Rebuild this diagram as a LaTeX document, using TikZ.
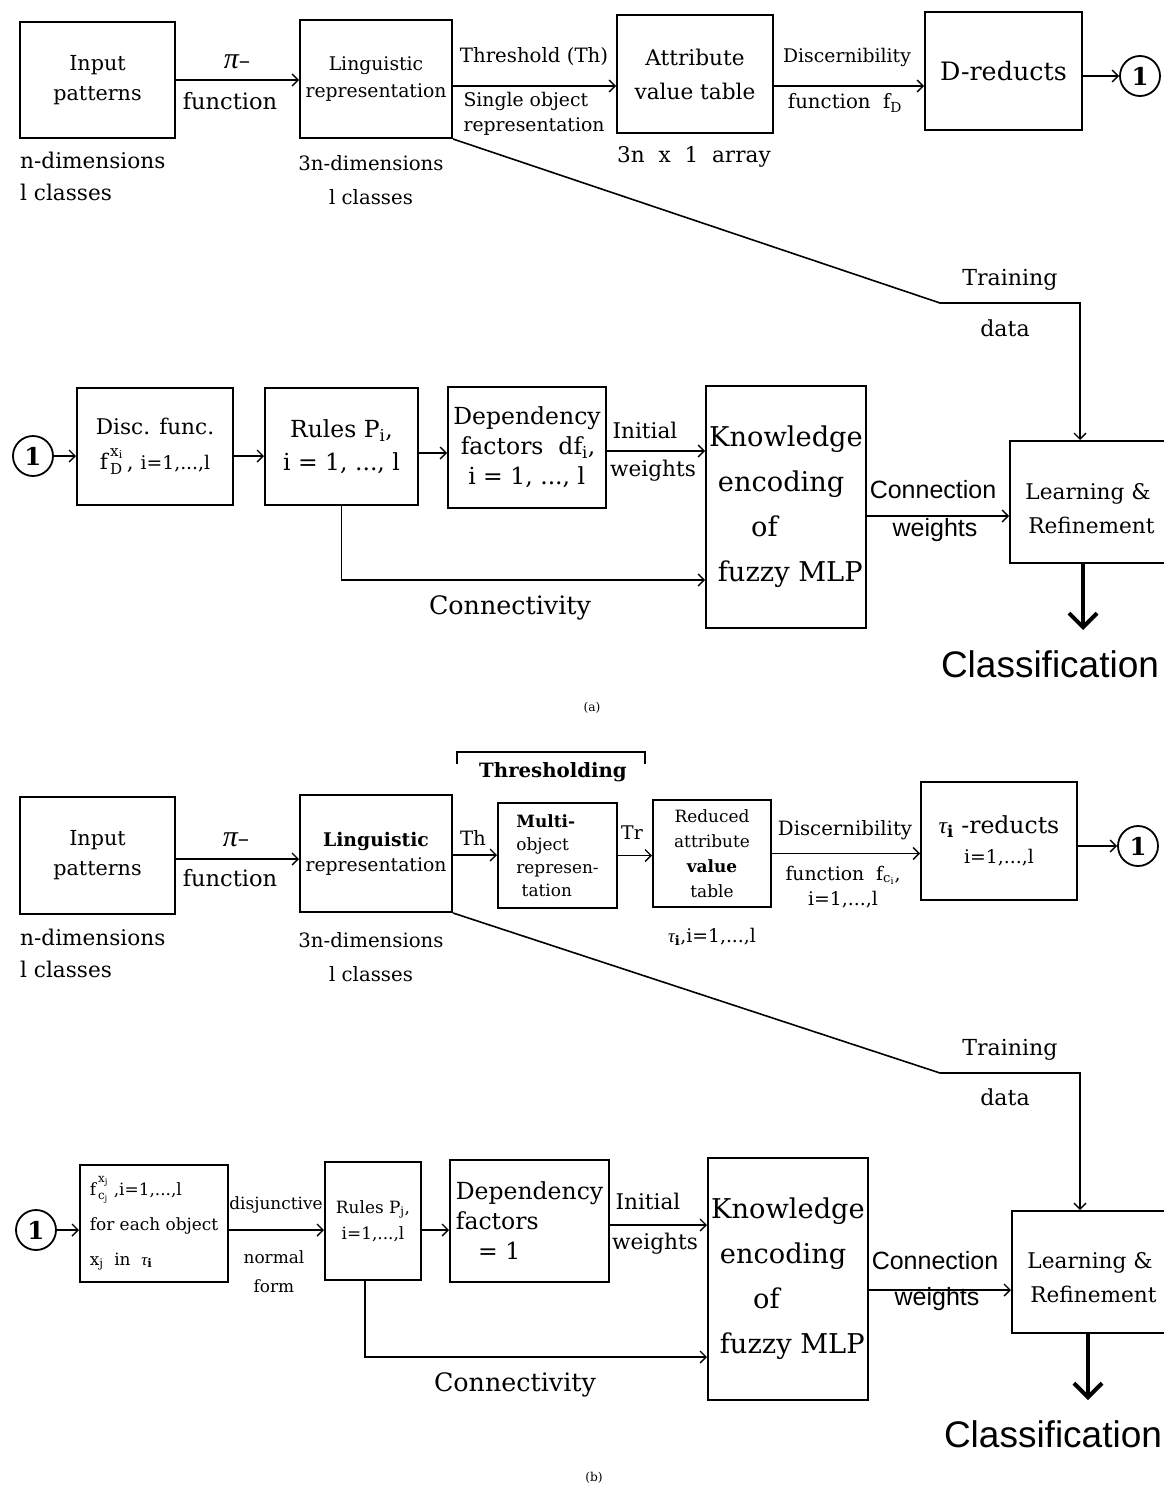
\documentclass[tikz,border=0pt]{standalone}
\usepackage{fontspec}
\setmainfont{DejaVu Serif}
\newfontfamily\arialf{Liberation Sans}
\newfontfamily\grk{Liberation Serif}
\usetikzlibrary{arrows.meta}
\newcommand\fsfac{0.94}
\newcommand\myfs[2]{\fontsize{\fpeval{#1*\fsfac}}{#2}\selectfont}
\newcommand\mysf[2]{\arialf\fontsize{#1}{#2}\selectfont}
\newcommand\tauf{{\grk\itshape τ}}
\newcommand\pif{{\grk\itshape\fontsize{30}{30}\selectfont π}}
\begin{document}
\begin{tikzpicture}[x=1pt,y=-1pt,
  box/.style 2 args={draw,line width=2pt,minimum width=#1pt,minimum height=#2pt,inner sep=0pt,align=center},
  circ/.style={draw,circle,line width=1.8pt,minimum size=40pt,inner sep=0pt,font=\myfs{26}{30}\bfseries},
  lbl/.style={inner sep=0pt,align=center},
  arr/.style={line width=1.6pt,-{Straight Barb[length=6pt,width=12pt,line width=1.4pt]}},
  bigarr/.style={line width=4pt,-{Straight Barb[length=14pt,width=28pt,line width=4pt]}},
  cls/.style={inner sep=0pt,font=\mysf{37}{40}}
]
\useasboundingbox (0,0) rectangle (1164,1488);
\clip (0,0) rectangle (1164,1488);
\fill[white] (0,0) rectangle (1164,1488);

% ================= (a) =================
\node[box={155}{116},font=\myfs{22}{30}] (inA) at (97.5,80) {Input\\patterns};
\node[box={152}{118},font=\myfs{20}{27}] (lingA) at (376,79) {Linguistic\\representation};
\node[box={156}{118},font=\myfs{23}{34}] (attrA) at (695,74) {Attribute\\value table};
\node[box={157}{118},font=\myfs{27}{34}] (dredA) at (1003.5,71) {D-reducts};
\node[circ] (c1A) at (1140,76) {1};

\node[lbl,font=\myfs{24}{26}] (piA) at (237,62) {\pif--};
\node[lbl,font=\myfs{24}{26}] (funA) at (230,101) {function};
\node[lbl,font=\myfs{23}{32},align=left,anchor=north west] (ndA) at (20,152) {n-dimensions\\l classes};
\node[lbl,font=\myfs{21}{34}] (n3A) at (371,180) {3n-dimensions\\l classes};
\node[lbl,font=\myfs{21}{24}] (thA) at (534,57) {Threshold (Th)};
\node[lbl,font=\myfs{20}{25},align=left] (soA) at (534,114) {Single object\\representation};
\node[lbl,font=\myfs{23}{26}] (arrA) at (694,157) {3n\ \ x\ \ 1\ \ array};
\node[lbl,font=\myfs{20}{24}] (discA1) at (847,57) {Discernibility};
\node[lbl,font=\myfs{21}{24}] (discA2) at (845,103) {function\ \ f$_{\mathrm{D}}$};

\draw[arr] (inA.east) -- (inA.east -| lingA.west);
\draw[arr] ([yshift=-7pt]lingA.east) -- ([yshift=-7pt]lingA.east -| attrA.west);
\draw[arr] ([yshift=-12pt]attrA.east) -- ([yshift=-12pt]attrA.east -| dredA.west);
\draw[arr] (c1A -| dredA.east) -- (c1A.west);

% row 2 (a)
\node[circ] (c2A) at (33,456) {1};
\node[box={156}{117},font=\myfs{23}{35}] (discA) at (155,446.5) {Disc. func.\\$\mathrm{f}^{\,\mathrm{x}_{\mathrm{i}}}_{\,\mathrm{D}}$\,, {\myfs{20}{24}i=1,...,l}};
\node[box={153}{117},font=\myfs{25}{33}] (rulesA) at (341.5,446.5) {Rules $\mathrm{P}_{\mathrm{i}}$,\\i = 1, ..., l};
\node[box={158}{121},font=\myfs{25}{30},align=left] (depA) at (527,447.5) {Dependency\\\ factors\ \ df$_{\mathrm{i}}$,\\\ \ i = 1, ..., l};
\node[box={160}{242},font=\myfs{29}{45},align=left] (knowA) at (786,507) {Knowledge\\\ encoding\\\hspace*{42pt}of\\\ fuzzy MLP};
\node[box={170}{122}] (learnA) at (1095,502) {};
\node[lbl,font=\myfs{23}{34}] (learnAt) at (1088,509) {Learning \&\\\ Refinement};

\node[lbl,font=\myfs{23}{28}] (iniA) at (645,430) {Initial};
\node[lbl,font=\myfs{23}{28}] (wA) at (653,471) {weights};
\node[lbl,font=\mysf{25}{28}] (conA) at (933,490) {Connection};
\node[lbl,font=\mysf{25}{28}] (cwA) at (935,530) {weights};
\node[lbl,font=\myfs{27}{32}] (cnA) at (510,608) {Connectivity};
\node[lbl,font=\myfs{23.5}{28}] (trA) at (1010,280) {Training};
\node[lbl,font=\myfs{23.5}{28}] (daA) at (1005,328) {data};
\node[cls] (classA) at (1050,664) {Classification};
\node[lbl,font=\myfs{13}{15}] (capA) at (592,708) {(a)};

\draw[arr] (c2A.east) -- (c2A -| discA.west);
\draw[arr] (c2A -| discA.east) -- (c2A -| rulesA.west);
\draw[arr] ([yshift=-6.5pt]rulesA.east) -- ([yshift=-6.5pt]rulesA.east -| depA.west);
\draw[arr] ([yshift=-3.5pt]depA.east) -- ([yshift=-3.5pt]depA.east -| knowA.west);
\draw[arr] (rulesA.south) |- ([yshift=-73pt]knowA.west);
\draw[arr] ([yshift=-9pt]knowA.east) -- ([yshift=-9pt]knowA.east -| learnA.west);
\coordinate (tA) at (940,303);
\draw[arr] (lingA.south east) -- (tA) -| ([xshift=-15pt]learnA.north);
\coordinate (clsA) at (1083,630);
\draw[bigarr] (learnA.south -| clsA) -- (clsA);

% ================= (b) =================
\draw[line width=2.5pt] (457,764) -- (457,752) -- (645,752) -- (645,764);
\node[lbl,font=\myfs{21}{24}\bfseries] (thrB) at (553,772) {Thresholding};

\node[box={155}{117},font=\myfs{22}{30}] (inB) at (97.5,855.5) {Input\\patterns};
\node[box={152}{117},font=\myfs{20}{25}] (lingB) at (376,853.5) {\textbf{Linguistic}\\representation};
\node[box={119}{105},font=\myfs{18}{23},align=left] (multiB) at (557.5,855.5) {\textbf{Multi-}\\object\\represen-\\\ tation};
\node[box={118}{107},font=\myfs{18}{25}] (redB) at (712,853.5) {Reduced\\attribute\\\textbf{value}\\table};
\node[box={156}{118},font=\myfs{25}{30}] (tredB) at (999,841) {\tauf$_{\mathbf{i}}$ -reducts\\{\myfs{20}{24}i=1,...,l}};
\node[circ] (c1B) at (1138,846) {1};

\node[lbl,font=\myfs{24}{26}] (piB) at (236,840) {\pif--};
\node[lbl,font=\myfs{24}{26}] (funB) at (230,878) {function};
\node[lbl,font=\myfs{23}{32},align=left,anchor=north west] (ndB) at (20,929) {n-dimensions\\l classes};
\node[lbl,font=\myfs{21}{34}] (n3B) at (371,957) {3n-dimensions\\l classes};
\node[lbl,font=\myfs{21}{24}] (thB) at (473,838) {Th};
\node[lbl,font=\myfs{20}{24}] (trrB) at (632,833) {Tr};
\node[lbl,font=\myfs{20}{24}] (tauB) at (712,937) {\tauf$_{\mathbf{i}}$,i=1,...,l};
\node[lbl,font=\myfs{21}{24}] (discB1) at (845,830) {Discernibility};
\node[lbl,font=\myfs{20}{25}] (discB2) at (843,887) {function\ \ f$_{\mathrm{c}_{\mathrm{i}}}$,\\i=1,...,l};

\draw[arr] ([yshift=-3.5pt]inB.east) -- ([yshift=-3.5pt]inB.east -| lingB.west);
\draw[arr] ([yshift=-1.5pt]lingB.east) -- ([yshift=-1.5pt]lingB.east -| multiB.west);
\draw[arr] (multiB.east) -- (multiB.east -| redB.west);
\draw[arr] (redB.east) -- (redB.east -| tredB.west);
\draw[arr] (c1B -| tredB.east) -- (c1B.west);

% row 2 (b)
\node[circ] (c2B) at (36,1230) {1};
\node[box={148}{117},font=\myfs{18}{35},align=left] (fcB) at (154,1223.5) {$\mathrm{f}^{\,\mathrm{x}_{\mathrm{j}}}_{\,\mathrm{c}_{\mathrm{j}}}$\ ,i=1,...,l\\for each object\\x$_{\mathrm{j}}$\ \ in\ \ \tauf$_{\mathbf{i}}$};
\node[box={96}{118},font=\myfs{18}{26}] (rulesB) at (373,1221) {Rules $\mathrm{P}_{\mathrm{j}}$,\\i=1,...,l};
\node[box={159}{122},font=\myfs{25}{30},align=left] (depB) at (529.5,1221) {Dependency\\factors\\\ \ \ = 1};
\node[box={160}{242},font=\myfs{29}{45},align=left] (knowB) at (788,1279) {Knowledge\\\ encoding\\\hspace*{42pt}of\\\ fuzzy MLP};
\node[box={170}{122}] (learnB) at (1097,1272) {};
\node[lbl,font=\myfs{23}{34}] (learnBt) at (1090,1278) {Learning \&\\\ Refinement};

\node[lbl,font=\myfs{18}{20}] (djB) at (276,1205) {disjunctive};
\node[lbl,font=\myfs{18}{29}] (nfB) at (274,1272) {normal\\form};
\node[lbl,font=\myfs{23}{28}] (iniB) at (648,1201) {Initial};
\node[lbl,font=\myfs{23}{28}] (wB) at (655,1244) {weights};
\node[lbl,font=\mysf{25}{28}] (conB) at (935,1261) {Connection};
\node[lbl,font=\mysf{25}{28}] (cwB) at (937,1299) {weights};
\node[lbl,font=\myfs{27}{32}] (cnB) at (515,1385) {Connectivity};
\node[lbl,font=\myfs{23.5}{28}] (trB) at (1010,1050) {Training};
\node[lbl,font=\myfs{23.5}{28}] (daB) at (1005,1097) {data};
\node[cls] (classB) at (1053,1434) {Classification};
\node[lbl,font=\myfs{13}{15}] (capB) at (594,1478) {(b)};

\draw[arr] (c2B.east) -- (c2B -| fcB.west);
\draw[arr] (c2B -| fcB.east) -- (c2B -| rulesB.west);
\draw[arr] (c2B -| rulesB.east) -- (c2B -| depB.west);
\draw[arr] ([yshift=-4pt]depB.east) -- ([yshift=-4pt]depB.east -| knowB.west);
\draw[arr] ([xshift=-8pt]rulesB.south) |- ([yshift=-78pt]knowB.west);
\draw[arr] ([yshift=-11pt]knowB.east) -- ([yshift=-11pt]knowB.east -| learnB.west);
\coordinate (tB) at (940,1073);
\draw[arr] (lingB.south east) -- (tB) -| ([xshift=-17pt]learnB.north);
\coordinate (clsB) at (1088,1400);
\draw[bigarr] (learnB.south -| clsB) -- (clsB);
\end{tikzpicture}
\end{document}
